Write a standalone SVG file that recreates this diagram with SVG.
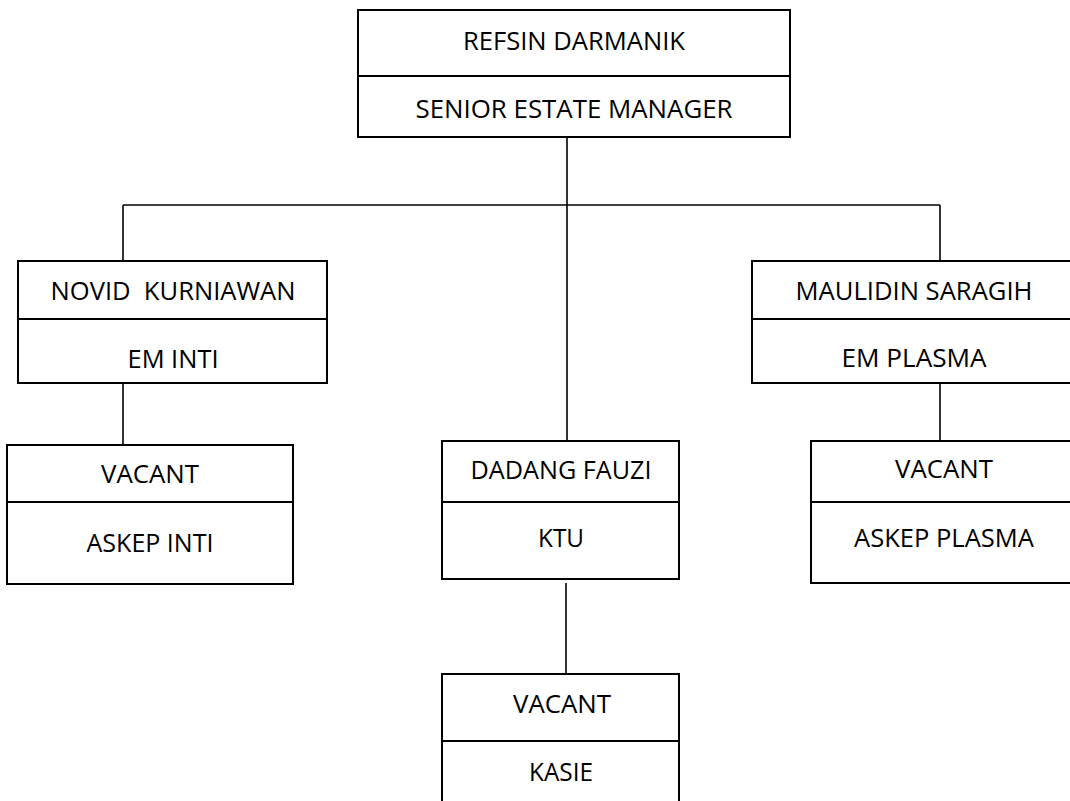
<svg xmlns="http://www.w3.org/2000/svg" width="1070" height="801" viewBox="0 0 1070 801">
<style>
.box{fill:none;stroke:#000;stroke-width:2}
.div{stroke:#000;stroke-width:2}
.con{fill:none;stroke:#000;stroke-width:1.6}
text{font-family:"Open Sans","Liberation Sans",sans-serif;font-size:25px;fill:#000;text-anchor:middle}
</style>
<rect width="1070" height="801" fill="#fff"/>
<g id="connectors">
<path class="con" d="M567,138 V441"/>
<path class="con" d="M123,205 H940"/>
<path class="con" d="M123,205 V261"/>
<path class="con" d="M940,205 V261"/>
<path class="con" d="M123,383 V445"/>
<path class="con" d="M940,383 V441"/>
<path class="con" d="M566,583 V674"/>
</g>
<g id="node-senior-manager">
<rect class="box" x="358" y="10" width="432" height="127"/>
<line class="div" x1="358" y1="76" x2="790" y2="76"/>
<text x="574" y="50" textLength="222" lengthAdjust="spacingAndGlyphs">REFSIN DARMANIK</text>
<text x="574" y="118" textLength="317" lengthAdjust="spacingAndGlyphs">SENIOR ESTATE MANAGER</text>
</g>
<g id="node-em-inti">
<rect class="box" x="18" y="261" width="309" height="122"/>
<line class="div" x1="18" y1="319" x2="327" y2="319"/>
<text x="173" y="300" textLength="245" lengthAdjust="spacingAndGlyphs" xml:space="preserve">NOVID  KURNIAWAN</text>
<text x="173" y="368" textLength="91" lengthAdjust="spacingAndGlyphs">EM INTI</text>
</g>
<g id="node-em-plasma">
<path class="box" d="M1071,261 H752 V383 H1071"/>
<line class="div" x1="752" y1="319" x2="1071" y2="319"/>
<text x="914" y="300" textLength="237" lengthAdjust="spacingAndGlyphs">MAULIDIN SARAGIH</text>
<text x="914" y="367" textLength="145" lengthAdjust="spacingAndGlyphs">EM PLASMA</text>
</g>
<g id="node-askep-inti">
<rect class="box" x="7" y="445" width="286" height="139"/>
<line class="div" x1="7" y1="502" x2="293" y2="502"/>
<text x="150" y="483" textLength="98" lengthAdjust="spacingAndGlyphs">VACANT</text>
<text x="150" y="552" textLength="127" lengthAdjust="spacingAndGlyphs">ASKEP INTI</text>
</g>
<g id="node-ktu">
<rect class="box" x="442" y="441" width="237" height="138"/>
<line class="div" x1="442" y1="502" x2="679" y2="502"/>
<text x="561" y="479" textLength="181" lengthAdjust="spacingAndGlyphs">DADANG FAUZI</text>
<text x="561" y="547" textLength="46" lengthAdjust="spacingAndGlyphs">KTU</text>
</g>
<g id="node-askep-plasma">
<path class="box" d="M1071,441 H811 V583 H1071"/>
<line class="div" x1="811" y1="502" x2="1071" y2="502"/>
<text x="944" y="478" textLength="98" lengthAdjust="spacingAndGlyphs">VACANT</text>
<text x="944" y="547" textLength="180" lengthAdjust="spacingAndGlyphs">ASKEP PLASMA</text>
</g>
<g id="node-kasie">
<path class="box" d="M442,801 V674 H679 V801"/>
<line class="div" x1="442" y1="741" x2="679" y2="741"/>
<text x="562" y="713" textLength="98" lengthAdjust="spacingAndGlyphs">VACANT</text>
<text x="561" y="781" textLength="64" lengthAdjust="spacingAndGlyphs">KASIE</text>
</g>
</svg>
